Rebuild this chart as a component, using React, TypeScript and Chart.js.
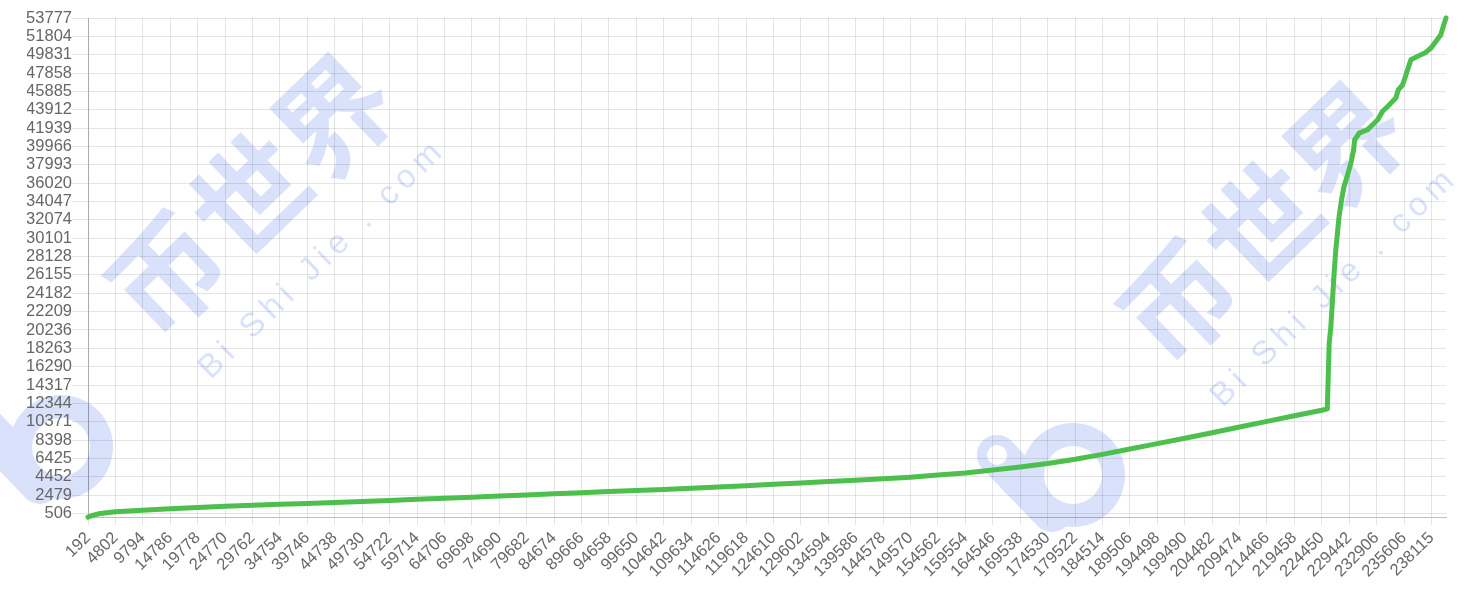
import React, { useEffect, useRef } from 'react';
import { Chart, registerables } from 'chart.js';

Chart.register(...registerables);

// ---- data ----
// Shown x-axis tick labels (one every TICK_STEP positions of the series)
const TICK_STEP = 10;
const xTickLabels = [
  '192', '4802', '9794', '14786', '19778', '24770', '29762', '34754', '39746', '44738',
  '49730', '54722', '59714', '64706', '69698', '74690', '79682', '84674', '89666', '94658',
  '99650', '104642', '109634', '114626', '119618', '124610', '129602', '134594', '139586', '144578',
  '149570', '154562', '159554', '164546', '169538', '174530', '179522', '184514', '189506', '194498',
  '199490', '204482', '209474', '214466', '219458', '224450', '229442', '232906', '235606', '238115',
];

// y-axis tick values
const yTickValues = [
  506, 2479, 4452, 6425, 8398, 10371, 12344, 14317, 16290, 18263, 20236, 22209, 24182, 26155,
  28128, 30101, 32074, 34047, 36020, 37993, 39966, 41939, 43912, 45885, 47858, 49831, 51804, 53777,
];

// position of each sample in the series
const seqPos = [
  0, 2, 4.5, 10, 20, 30, 40, 50, 60, 70, 80, 90, 100, 110, 120, 130, 140, 150, 160, 170,
  180, 190, 200, 210, 220, 230, 240, 250, 260, 270, 280, 290, 300, 310, 320, 330, 340, 350,
  360, 370, 380, 390, 400, 410, 420, 430, 440, 450, 452,
  452.7, 453.3, 453.9, 454.5, 455.1, 455.7, 456.3, 457.2, 458.1, 459.4, 460.6, 461.6, 462.0,
  463.6, 466.7, 467.3, 470.4, 472.1, 474.0, 477.0, 477.9, 479.5, 480.7, 481.9, 482.5, 484.9,
  487.9, 489.8, 491.6, 493.4, 494.3, 495.3,
];

// sampled values
const seriesValues = [
  120, 330, 510, 690, 861, 1008, 1157, 1275, 1395, 1492, 1588, 1682, 1798, 1916, 2033, 2150, 2268, 2385, 2503, 2623,
  2742, 2862, 2981, 3101, 3220, 3349, 3499, 3650, 3799, 3949, 4096, 4244, 4418, 4639, 4860, 5184, 5517, 5884,
  6338, 6868, 7438, 8016, 8593, 9196, 9800, 10409, 11018, 11609, 11750,
  18800, 20590, 23460, 26340, 28840, 30640, 32430, 34220, 35660, 36910, 38170, 39600, 40680,
  41400, 41760, 41940, 42830, 43730, 44270, 45170, 46060, 46600, 47680, 48750, 49290, 49650,
  50080, 50550, 51260, 51980, 52870, 53777,
];

const Y_MIN = 100;
const Y_MAX = 53777;
const X_MAX = 495.3;

// ---- style ----
const FONT_FAMILY = "'Liberation Sans', Arial, Helvetica, sans-serif";
const LINE_COLOR = 'rgb(76, 191, 76)';
const WM_COLOR = '#dae2fb';
const DOTS_FROM = 450;

function drawWatermarkTile(ctx: CanvasRenderingContext2D, ox: number, oy: number) {
  ctx.save();
  ctx.fillStyle = WM_COLOR;
  ctx.strokeStyle = WM_COLOR;
  // logo
  const cx = ox + 61, cy = oy + 447;
  const sx = ox - 15, sy = oy + 427;
  ctx.beginPath(); ctx.arc(cx, cy, 52, 0, Math.PI * 2); ctx.fill();
  ctx.beginPath(); ctx.arc(sx, sy, 20, 0, Math.PI * 2); ctx.fill();
  ctx.lineWidth = 40; ctx.lineCap = 'round';
  ctx.beginPath(); ctx.moveTo(sx, sy); ctx.lineTo(ox + 40, oy + 484); ctx.stroke();
  ctx.fillStyle = '#ffffff';
  ctx.beginPath(); ctx.arc(cx, cy, 29, 0, Math.PI * 2); ctx.fill();
  ctx.beginPath(); ctx.arc(sx, sy, 10, 0, Math.PI * 2); ctx.fill();

  // Chinese characters
  ctx.fillStyle = WM_COLOR;
  const chars = ['币', '世', '界'];
  const ang = -44 * Math.PI / 180;
  ctx.font = "bold 114px 'Noto Sans CJK SC', sans-serif";
  ctx.textAlign = 'center';
  ctx.textBaseline = 'middle';
  chars.forEach((c, i) => {
    ctx.save();
    ctx.translate(ox + 167 + i * 83, oy + 274 - i * 79);
    ctx.rotate(ang);
    ctx.fillText(c, 0, 0);
    ctx.restore();
  });

  // latin text
  const txt = 'Bi Shi Jie . com';
  ctx.font = "33px 'Liberation Sans', Arial, sans-serif";
  const ws = Array.from(txt).map((c) => ctx.measureText(c).width);
  const total = ws.reduce((a, b) => a + b, 0);
  const x0 = ox + 212, y0 = oy + 366, x1 = ox + 427, y1 = oy + 158;
  const L = Math.hypot(x1 - x0, y1 - y0);
  const a2 = Math.atan2(y1 - y0, x1 - x0);
  const n = ws.length;
  const s = (L - (total - ws[0] / 2 - ws[n - 1] / 2)) / (n - 1);
  ctx.save();
  ctx.translate(x0, y0);
  ctx.rotate(a2);
  let acc = 0;
  Array.from(txt).forEach((c, i) => {
    const center = acc + ws[i] / 2 - ws[0] / 2 + i * s;
    ctx.fillText(c, center, 0);
    acc += ws[i];
  });
  ctx.restore();
  ctx.restore();
}

const watermarkPlugin = {
  id: 'watermark',
  beforeDraw(chart: any) {
    const ctx = chart.ctx as CanvasRenderingContext2D;
    drawWatermarkTile(ctx, 0, 0);
    drawWatermarkTile(ctx, 1012, 28);
  },
};

export default function App() {
  const ref = useRef<HTMLCanvasElement>(null);

  useEffect(() => {
    if (!ref.current) return;
    const font = { size: 16.5, family: FONT_FAMILY };
    const chart = new Chart(ref.current, {
      type: 'line',
      data: {
        datasets: [
          {
            data: seqPos.map((x, i) => ({ x, y: seriesValues[i] })),
            borderColor: LINE_COLOR,
            borderWidth: 5,
            borderCapStyle: 'round',
            borderJoinStyle: 'round',
            tension: 0,
            fill: false,
            clip: false as any,
            pointRadius: (c: any) => (seqPos[c.dataIndex] >= DOTS_FROM ? 1.2 : 0),
            pointBorderWidth: 2,
            pointBorderColor: LINE_COLOR,
            pointBackgroundColor: '#ffffff',
            pointHoverRadius: 3,
          },
        ],
      },
      options: {
        responsive: true,
        maintainAspectRatio: false,
        animation: false,
        layout: { padding: { left: 27, right: 36, top: 18, bottom: 0 } },
        plugins: {
          legend: { display: false },
          tooltip: { enabled: true },
        },
        scales: {
          x: {
            type: 'linear',
            min: 0,
            max: X_MAX,
            afterBuildTicks: (axis: any) => {
              axis.ticks = xTickLabels.map((_, i) => ({ value: i * TICK_STEP }));
            },
            afterFit: (axis: any) => {
              axis.height = 92.7;
            },
            ticks: {
              autoSkip: false,
              minRotation: 45,
              maxRotation: 45,
              color: '#666',
              font,
              padding: 3,
              callback: (v: any) => xTickLabels[Math.round(Number(v) / TICK_STEP)] ?? '',
            },
            grid: { color: 'rgba(0,0,0,0.1)', tickLength: 8 },
            border: { color: 'rgba(0,0,0,0.25)' },
          },
          y: {
            type: 'linear',
            min: Y_MIN,
            max: Y_MAX,
            afterBuildTicks: (axis: any) => {
              axis.ticks = yTickValues.map((v) => ({ value: v }));
            },
            afterFit: (axis: any) => {
              axis.width = 61;
            },
            ticks: {
              autoSkip: false,
              color: '#666',
              font,
              padding: 0,
              callback: (v: any) => String(v),
            },
            grid: { color: 'rgba(0,0,0,0.1)', tickLength: 16 },
            border: { color: 'rgba(0,0,0,0.25)' },
          },
        },
      },
      plugins: [watermarkPlugin],
    } as any);
    return () => chart.destroy();
  }, []);

  return (
    <div style={{ position: 'fixed', left: 0, top: 0, width: 1482, height: 610, background: '#fff' }}>
      <canvas ref={ref} />
    </div>
  );
}
